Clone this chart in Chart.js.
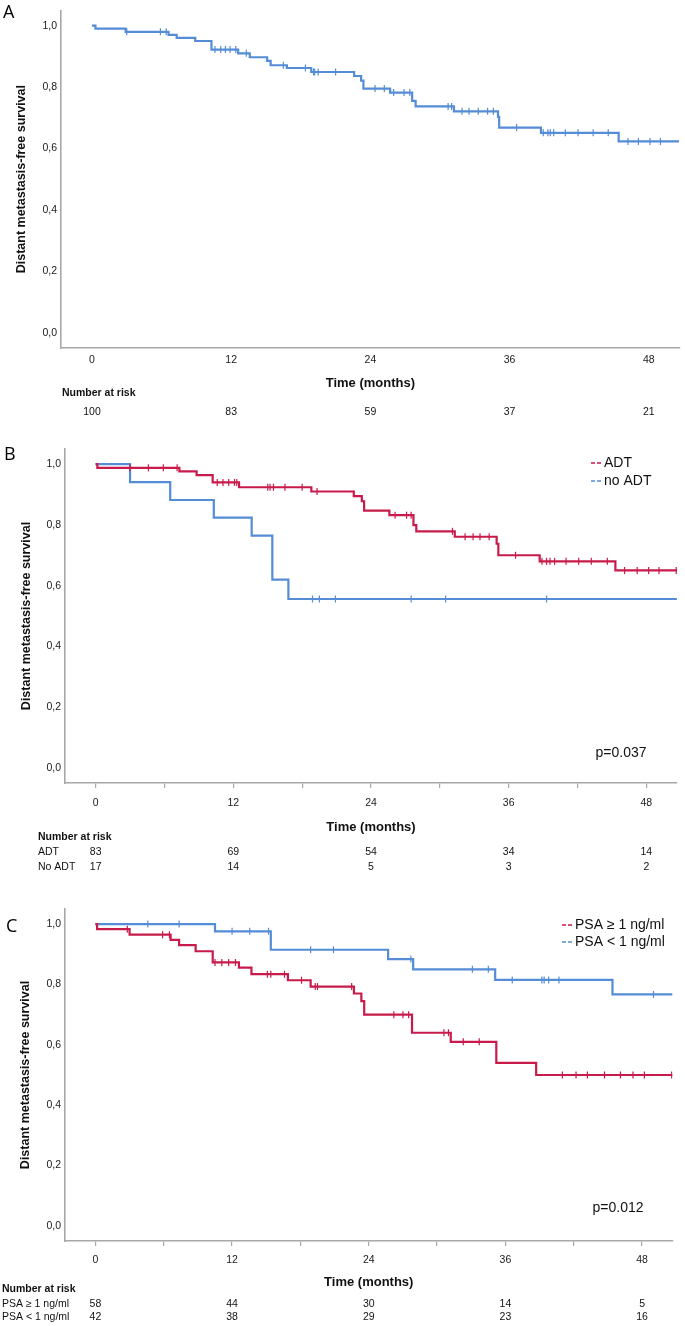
<!DOCTYPE html>
<html>
<head>
<meta charset="utf-8">
<script src="https://cdn.jsdelivr.net/npm/chart.js@4.4.1/dist/chart.umd.min.js"></script>
<style>
    html, body { margin: 0; padding: 0; background: #fff; }
    body { width: 685px; height: 1326px; position: relative; overflow: hidden; }
    .panel { position: absolute; left: 0; }
</style>
</head>
<body>
<div class="panel" style="top:0px"><canvas id="graficaA" width="685" height="425"></canvas></div>
<div class="panel" style="top:430px"><canvas id="graficaB" width="685" height="445"></canvas></div>
<div class="panel" style="top:885px"><canvas id="graficaC" width="685" height="441"></canvas></div>
<script>
// Marcas de los ejes
const marcasY = [0, 0.2, 0.4, 0.6, 0.8, 1.0];
const marcasX = [0, 6, 12, 18, 24, 30, 36, 42, 48];
const marcasRiesgo = [0, 12, 24, 36, 48];

// Panel A: toda la cohorte
const tiemposA = [0, 0.3, 2.9, 6.6, 7.3, 8.9, 10.3, 12.6, 13.6, 15.1, 15.4, 16.8, 18.9, 22.6, 23.2, 23.4, 25.7, 27.6, 27.9, 31.2, 35.0, 35.1, 38.7, 45.4, 50.6];
const survA = [1.0, 0.99, 0.98, 0.97, 0.96, 0.95, 0.922, 0.91, 0.897, 0.885, 0.871, 0.862, 0.849, 0.836, 0.821, 0.795, 0.782, 0.755, 0.737, 0.721, 0.703, 0.668, 0.651, 0.623, 0.623];
const censurasA = [3.0, 5.9, 6.4, 10.6, 11.1, 11.5, 11.9, 12.4, 13.3, 16.5, 18.4, 19.1, 19.2, 19.5, 21.0, 24.4, 25.2, 26.0, 26.9, 27.4, 30.7, 31.0, 31.9, 32.5, 33.3, 34.1, 34.6, 36.6, 38.9, 39.3, 39.5, 39.8, 40.8, 41.9, 43.2, 44.5, 46.2, 47.1, 48.1, 49.0];
const riesgoA = [100, 83, 59, 37, 21];

// Panel B: ADT / no ADT
const tiemposADT = [0, 0.15, 7.3, 8.8, 10.2, 12.5, 18.8, 22.5, 23.2, 23.4, 25.6, 27.7, 27.95, 31.3, 34.95, 35.1, 38.7, 45.3, 50.66];
const survADT = [1.0, 0.988, 0.976, 0.964, 0.94, 0.924, 0.91, 0.895, 0.878, 0.847, 0.832, 0.799, 0.779, 0.761, 0.738, 0.70, 0.68, 0.65, 0.65];
const censurasADT = [3.0, 4.6, 5.9, 7.1, 10.6, 11.1, 11.6, 12.1, 12.3, 15.0, 15.2, 15.5, 16.5, 18.0, 19.3, 26.1, 27.1, 27.5, 31.1, 32.2, 32.9, 33.5, 34.3, 36.6, 38.9, 39.3, 39.6, 40.0, 41.0, 42.1, 43.2, 44.6, 46.1, 47.2, 48.2, 49.1, 50.6];
const tiemposNoADT = [0, 3.0, 6.5, 10.3, 13.6, 15.4, 16.8, 50.66];
const survNoADT = [1.0, 0.941, 0.882, 0.824, 0.765, 0.62, 0.556, 0.556];
const censurasNoADT = [18.9, 19.5, 20.9, 27.5, 30.5, 39.3];
const riesgoADT = [83, 69, 54, 34, 14];
const riesgoNoADT = [17, 14, 5, 3, 2];

// Panel C: PSA
const tiemposPSAalto = [0, 0.15, 3.0, 6.6, 7.35, 8.8, 10.3, 12.6, 13.7, 16.9, 18.9, 22.7, 23.35, 23.6, 27.8, 31.2, 35.2, 38.7, 50.68];
const survPSAalto = [1.0, 0.983, 0.965, 0.948, 0.93, 0.91, 0.873, 0.856, 0.834, 0.814, 0.793, 0.77, 0.745, 0.70, 0.64, 0.61, 0.54, 0.50, 0.50];
const censurasPSAalto = [2.8, 5.9, 6.5, 10.5, 11.1, 11.7, 12.3, 15.1, 15.4, 16.6, 18.1, 19.3, 19.5, 22.5, 26.2, 27.0, 27.5, 30.6, 31.0, 32.3, 33.7, 41.0, 42.2, 43.2, 44.7, 46.1, 47.2, 48.2, 50.6];
const tiemposPSAbajo = [0, 10.5, 15.4, 25.7, 27.9, 35.1, 45.4, 50.68];
const survPSAbajo = [1.0, 0.976, 0.915, 0.884, 0.85, 0.815, 0.767, 0.767];
const censurasPSAbajo = [4.6, 7.35, 12.0, 13.55, 15.2, 18.9, 20.9, 27.7, 33.1, 34.5, 36.6, 39.2, 39.4, 39.8, 40.7, 49.0];
const riesgoPSAalto = [58, 44, 30, 14, 5];
const riesgoPSAbajo = [42, 38, 29, 23, 16];

const AZUL = '#558cd6';
const ROJO = '#c81a4b';
const GRIS = '#a8a8a8';
const FUENTE = '"Liberation Sans", Arial, sans-serif';

// Valor de la curva escalonada en el tiempo t
function supervivenciaEn(tiempos, valores, t) {
    let s = valores[0];
    for (let i = 0; i < tiempos.length; i++) {
        if (tiempos[i] <= t) s = valores[i];
    }
    return s;
}

// Textos extra: letra del panel, leyenda, p y tabla de pacientes en riesgo
const textosExtra = {
    id: 'textosExtra',
    afterDraw(chart, args, op) {
        const ctx = chart.ctx;
        const escalaX = chart.scales.x;
        ctx.save();
        ctx.fillStyle = '#000';
        ctx.textBaseline = 'alphabetic';
        ctx.textAlign = 'left';
        ctx.font = '18px "Open Sans", sans-serif';
        ctx.fillText(op.letra, op.letraX, op.letraY);

        ctx.textBaseline = 'middle';
        (op.leyenda || []).forEach(l => {
            ctx.strokeStyle = l.color;
            ctx.lineWidth = 1.3;
            ctx.beginPath();
            ctx.moveTo(op.leyendaX, l.y); ctx.lineTo(op.leyendaX + 4, l.y);
            ctx.moveTo(op.leyendaX + 6, l.y); ctx.lineTo(op.leyendaX + 10, l.y);
            ctx.stroke();
            ctx.fillStyle = '#111';
            ctx.font = '14px ' + FUENTE;
            ctx.fillText(l.texto, op.leyendaX + 13, l.y);
        });

        if (op.p) {
            ctx.fillStyle = '#111';
            ctx.font = '14px ' + FUENTE;
            ctx.textAlign = 'center';
            ctx.fillText(op.p.texto, op.p.x, op.p.y);
        }

        const r = op.riesgo;
        ctx.fillStyle = '#111';
        ctx.textAlign = 'left';
        ctx.font = 'bold 10.5px ' + FUENTE;
        ctx.fillText('Number at risk', r.tituloX, r.tituloY);
        ctx.font = '10.5px ' + FUENTE;
        r.filas.forEach(f => {
            ctx.textAlign = 'left';
            if (f.etiqueta) ctx.fillText(f.etiqueta, r.etiquetaX, f.y);
            ctx.textAlign = 'center';
            f.valores.forEach((v, i) => {
                ctx.fillText(String(v), escalaX.getPixelForValue(marcasRiesgo[i]), f.y);
            });
        });
        ctx.restore();
    }
};

function crearGraficaKM(idCanvas, series, ajustes) {
    const datasets = [];
    series.forEach(s => {
        datasets.push({
            type: 'line',
            data: s.tiempos.map((t, i) => ({ x: t, y: s.supervivencia[i] })),
            borderColor: s.color,
            borderWidth: 2.2,
            stepped: 'before',
            pointRadius: 0,
            fill: false
        });
        datasets.push({
            type: 'scatter',
            data: s.censuras.map(t => ({ x: t, y: supervivenciaEn(s.tiempos, s.supervivencia, t) })),
            showLine: false,
            pointStyle: 'line',
            pointRotation: 90,
            pointRadius: 3.5,
            pointBorderWidth: 1.2,
            pointBorderColor: s.color,
            pointBackgroundColor: s.color
        });
    });

    const ctx = document.getElementById(idCanvas).getContext('2d');
    return new Chart(ctx, {
        data: { datasets: datasets },
        options: {
            responsive: false,
            animation: false,
            events: [],
            layout: { padding: ajustes.padding },
            plugins: {
                legend: { display: false },
                tooltip: { enabled: false },
                textosExtra: ajustes.textos
            },
            scales: {
                x: {
                    type: 'linear',
                    min: -2.67,
                    max: 50.67,
                    afterBuildTicks: e => { e.ticks = marcasX.map(v => ({ value: v })); },
                    afterFit: e => { e.height = ajustes.altoX; },
                    ticks: {
                        autoSkip: false,
                        maxRotation: 0,
                        padding: ajustes.rellenoX,
                        color: '#1a1a1a',
                        font: { family: FUENTE, size: 10.5 },
                        callback: v => (v % 12 === 0 ? String(v) : '')
                    },
                    grid: {
                        display: ajustes.marcasMenores,
                        drawOnChartArea: false,
                        drawTicks: ajustes.marcasMenores,
                        tickLength: ajustes.marcasMenores ? 5 : 0,
                        color: GRIS,
                        lineWidth: 1.2
                    },
                    border: { display: true, color: GRIS, width: 1.6 },
                    title: {
                        display: true,
                        text: 'Time (months)',
                        color: '#111',
                        padding: 0,
                        font: { family: FUENTE, size: 13, weight: 'bold' }
                    }
                },
                y: {
                    min: -0.05,
                    max: 1.05,
                    afterBuildTicks: e => { e.ticks = marcasY.map(v => ({ value: v })); },
                    afterFit: e => { e.width = ajustes.anchoY; },
                    ticks: {
                        padding: 4,
                        color: '#1a1a1a',
                        font: { family: FUENTE, size: 10.5 },
                        callback: v => v.toFixed(1).replace('.', ',')
                    },
                    grid: { display: false, drawTicks: false },
                    border: { display: true, color: GRIS, width: 1.6 },
                    title: {
                        display: true,
                        text: 'Distant metastasis-free survival',
                        color: '#111',
                        padding: { top: ajustes.tituloYPad, bottom: 0 },
                        font: { family: FUENTE, size: 12.5, weight: 'bold' }
                    }
                }
            }
        },
        plugins: [textosExtra]
    });
}

crearGraficaKM('graficaA', [
    { tiempos: tiemposA, supervivencia: survA, censuras: censurasA, color: AZUL }
], {
    padding: { top: 3, right: 4, bottom: 34, left: 0 },
    anchoY: 61, tituloYPad: 14.5, altoX: 43, rellenoX: 6, marcasMenores: false,
    textos: {
        letra: 'A', letraX: 3, letraY: 18,
        riesgo: { tituloX: 62, tituloY: 393, etiquetaX: 62, filas: [{ etiqueta: '', valores: riesgoA, y: 412 }] }
    }
});

crearGraficaKM('graficaB', [
    { tiempos: tiemposADT, supervivencia: survADT, censuras: censurasADT, color: ROJO },
    { tiempos: tiemposNoADT, supervivencia: survNoADT, censuras: censurasNoADT, color: AZUL }
], {
    padding: { top: 19, right: 8, bottom: 40, left: 0 },
    anchoY: 65, tituloYPad: 19.5, altoX: 52, rellenoX: 9, marcasMenores: true,
    textos: {
        letra: 'B', letraX: 4, letraY: 30,
        leyendaX: 591,
        leyenda: [{ texto: 'ADT', color: ROJO, y: 33 }, { texto: 'no ADT', color: AZUL, y: 51 }],
        p: { texto: 'p=0.037', x: 621, y: 323 },
        riesgo: {
            tituloX: 38, tituloY: 407, etiquetaX: 38,
            filas: [{ etiqueta: 'ADT', valores: riesgoADT, y: 422 }, { etiqueta: 'No ADT', valores: riesgoNoADT, y: 437 }]
        }
    }
});

crearGraficaKM('graficaC', [
    { tiempos: tiemposPSAalto, supervivencia: survPSAalto, censuras: censurasPSAalto, color: ROJO },
    { tiempos: tiemposPSAbajo, supervivencia: survPSAbajo, censuras: censurasPSAbajo, color: AZUL }
], {
    padding: { top: 24, right: 12.5, bottom: 36, left: 0 },
    anchoY: 65, tituloYPad: 18.5, altoX: 49, rellenoX: 8, marcasMenores: true,
    textos: {
        letra: 'C', letraX: 6, letraY: 47,
        leyendaX: 562,
        leyenda: [{ texto: 'PSA ≥ 1 ng/ml', color: ROJO, y: 40 }, { texto: 'PSA < 1 ng/ml', color: AZUL, y: 57 }],
        p: { texto: 'p=0.012', x: 618, y: 323 },
        riesgo: {
            tituloX: 2, tituloY: 404, etiquetaX: 2,
            filas: [{ etiqueta: 'PSA ≥ 1 ng/ml', valores: riesgoPSAalto, y: 419 }, { etiqueta: 'PSA < 1 ng/ml', valores: riesgoPSAbajo, y: 432 }]
        }
    }
});
</script>
</body>
</html>
